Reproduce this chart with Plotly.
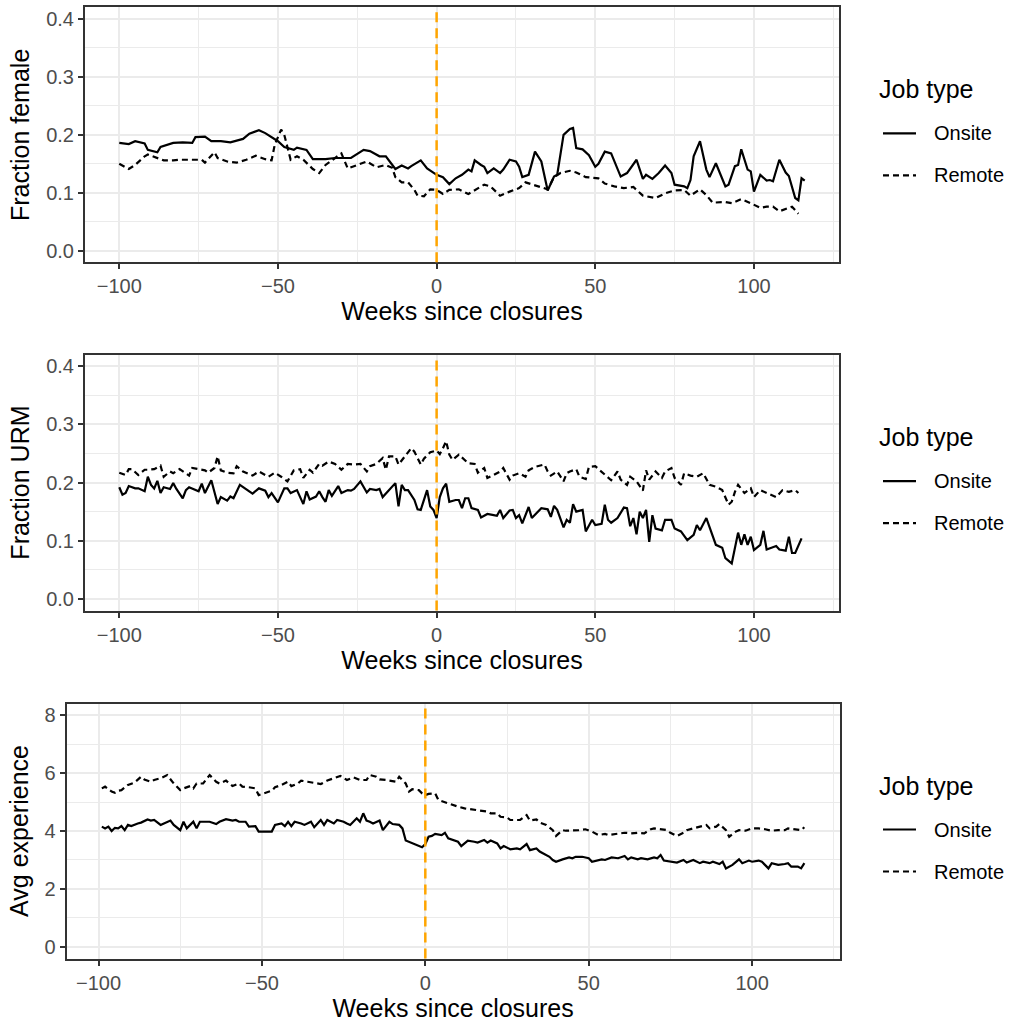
import plotly.graph_objects as go

# ---------------------------------------------------------------------------
# Weekly series, (week since closures, value)
# ---------------------------------------------------------------------------
female_onsite = [
    (-100, 0.186), (-97, 0.184), (-95, 0.189), (-92, 0.185), (-91, 0.174),
    (-88, 0.170), (-87, 0.179), (-83, 0.186), (-80, 0.187), (-77, 0.186),
    (-76, 0.196), (-73, 0.197), (-71, 0.189), (-68, 0.189), (-65, 0.187),
    (-61, 0.193), (-59, 0.202), (-56, 0.208), (-54, 0.203), (-50, 0.189),
    (-48, 0.179), (-45, 0.174), (-44, 0.178), (-41, 0.174), (-39, 0.158),
    (-35, 0.158), (-32, 0.160), (-29, 0.160), (-27, 0.160), (-23, 0.174),
    (-21, 0.172), (-18, 0.163), (-16, 0.163), (-13, 0.141), (-11, 0.147),
    (-9, 0.142), (-8, 0.146), (-5, 0.156), (-3, 0.142), (0, 0.131),
    (2, 0.127), (4, 0.115), (6, 0.125), (8, 0.131), (10, 0.140),
    (11, 0.137), (12, 0.156), (14, 0.148), (15, 0.145), (16, 0.134),
    (18, 0.142), (20, 0.134), (21, 0.140), (23, 0.157), (25, 0.154),
    (26, 0.145), (27, 0.127), (29, 0.131), (31, 0.171), (33, 0.154),
    (35, 0.104), (37, 0.128), (38, 0.131), (40, 0.200), (42, 0.210),
    (43, 0.212), (44, 0.177), (46, 0.175), (48, 0.165), (50, 0.145),
    (51, 0.150), (53, 0.171), (55, 0.168), (58, 0.128), (60, 0.134),
    (63, 0.157), (65, 0.124), (66, 0.131), (68, 0.124), (70, 0.134),
    (72, 0.147), (74, 0.134), (75, 0.114), (78, 0.111), (79, 0.108),
    (80, 0.122), (81, 0.163), (83, 0.189), (85, 0.140), (86, 0.127),
    (88, 0.151), (91, 0.111), (92, 0.114), (94, 0.146), (95, 0.148),
    (96, 0.175), (98, 0.140), (99, 0.137), (100, 0.102), (102, 0.131),
    (104, 0.121), (105, 0.122), (106, 0.120), (108, 0.157), (110, 0.135),
    (111, 0.129), (113, 0.091), (114, 0.087), (115, 0.125), (116, 0.121),
]

female_remote = [
    (-100, 0.150), (-97, 0.141), (-95, 0.148), (-92, 0.163), (-91, 0.166),
    (-89, 0.162), (-86, 0.156), (-83, 0.156), (-81, 0.157), (-77, 0.157),
    (-74, 0.157), (-73, 0.152), (-70, 0.170), (-69, 0.160), (-66, 0.154),
    (-63, 0.152), (-60, 0.157), (-57, 0.164), (-54, 0.158), (-52, 0.156),
    (-51, 0.183), (-49, 0.209), (-48, 0.200), (-46, 0.157), (-44, 0.163),
    (-42, 0.157), (-39, 0.141), (-37, 0.134), (-35, 0.148), (-30, 0.168),
    (-28, 0.142), (-25, 0.148), (-22, 0.154), (-19, 0.144), (-16, 0.148),
    (-14, 0.143), (-13, 0.127), (-11, 0.118), (-9, 0.118), (-7, 0.105),
    (-6, 0.095), (-4, 0.094), (-2, 0.106), (0, 0.105), (2, 0.098),
    (4, 0.105), (7, 0.106), (10, 0.098), (13, 0.108), (15, 0.114),
    (17, 0.111), (20, 0.095), (23, 0.102), (26, 0.108), (28, 0.118),
    (32, 0.111), (35, 0.106), (37, 0.127), (39, 0.134), (42, 0.138),
    (44, 0.135), (47, 0.127), (51, 0.125), (53, 0.116), (56, 0.111),
    (59, 0.108), (62, 0.110), (65, 0.095), (69, 0.091), (72, 0.099),
    (75, 0.104), (78, 0.105), (80, 0.095), (83, 0.106), (85, 0.096),
    (87, 0.083), (91, 0.084), (93, 0.082), (96, 0.089), (99, 0.082),
    (102, 0.074), (104, 0.076), (106, 0.076), (108, 0.068), (112, 0.076),
    (114, 0.064),
]

urm_onsite = [
    (-100, 0.192), (-99, 0.179), (-98, 0.182), (-97, 0.194), (-95, 0.190),
    (-94, 0.190), (-92, 0.185), (-91, 0.210), (-90, 0.196), (-89, 0.190),
    (-88, 0.203), (-87, 0.182), (-86, 0.192), (-84, 0.189), (-83, 0.199),
    (-82, 0.189), (-80, 0.173), (-79, 0.187), (-78, 0.192), (-76, 0.187),
    (-75, 0.185), (-74, 0.198), (-73, 0.182), (-71, 0.204), (-70, 0.182),
    (-69, 0.163), (-68, 0.175), (-66, 0.169), (-65, 0.176), (-64, 0.173),
    (-62, 0.196), (-61, 0.192), (-59, 0.185), (-58, 0.181), (-56, 0.190),
    (-54, 0.186), (-53, 0.175), (-52, 0.182), (-50, 0.166), (-48, 0.190),
    (-47, 0.190), (-46, 0.182), (-44, 0.187), (-43, 0.175), (-42, 0.163),
    (-41, 0.185), (-40, 0.171), (-38, 0.176), (-37, 0.185), (-36, 0.175),
    (-35, 0.167), (-34, 0.187), (-33, 0.177), (-31, 0.194), (-30, 0.182),
    (-28, 0.187), (-27, 0.186), (-26, 0.189), (-24, 0.202), (-22, 0.183),
    (-21, 0.189), (-19, 0.187), (-18, 0.189), (-17, 0.175), (-15, 0.187),
    (-13, 0.199), (-12, 0.159), (-11, 0.196), (-10, 0.187), (-9, 0.187),
    (-7, 0.170), (-6, 0.154), (-5, 0.153), (-3, 0.187), (-2, 0.159),
    (-1, 0.153), (0, 0.139), (1, 0.175), (2, 0.190), (3, 0.198),
    (4, 0.167), (6, 0.170), (7, 0.170), (8, 0.156), (9, 0.173),
    (10, 0.173), (11, 0.156), (13, 0.153), (14, 0.140), (16, 0.146),
    (18, 0.144), (19, 0.143), (20, 0.153), (21, 0.139), (23, 0.152),
    (24, 0.153), (25, 0.139), (26, 0.144), (27, 0.130), (29, 0.158),
    (30, 0.139), (32, 0.150), (33, 0.156), (35, 0.154), (36, 0.141),
    (37, 0.160), (38, 0.153), (40, 0.123), (41, 0.136), (42, 0.131),
    (43, 0.163), (44, 0.150), (46, 0.153), (47, 0.116), (49, 0.136),
    (50, 0.127), (52, 0.129), (53, 0.162), (54, 0.136), (55, 0.131),
    (57, 0.139), (59, 0.157), (60, 0.156), (61, 0.125), (62, 0.139),
    (63, 0.111), (64, 0.150), (65, 0.139), (66, 0.153), (67, 0.098),
    (68, 0.144), (69, 0.121), (71, 0.118), (72, 0.136), (74, 0.136),
    (75, 0.121), (77, 0.116), (79, 0.101), (81, 0.110), (82, 0.127),
    (83, 0.118), (85, 0.139), (86, 0.124), (88, 0.093), (90, 0.088),
    (91, 0.070), (93, 0.061), (94, 0.090), (95, 0.114), (96, 0.093),
    (97, 0.111), (98, 0.093), (99, 0.107), (100, 0.084), (102, 0.093),
    (103, 0.117), (104, 0.085), (107, 0.091), (108, 0.085), (110, 0.083),
    (111, 0.107), (112, 0.079), (113, 0.079), (115, 0.104),
]

urm_remote = [
    (-100, 0.217), (-98, 0.213), (-97, 0.223), (-96, 0.223), (-94, 0.213),
    (-92, 0.222), (-91, 0.222), (-89, 0.223), (-87, 0.229), (-86, 0.210),
    (-84, 0.219), (-83, 0.216), (-81, 0.223), (-78, 0.212), (-77, 0.225),
    (-75, 0.223), (-73, 0.221), (-72, 0.217), (-70, 0.225), (-69, 0.245),
    (-68, 0.221), (-66, 0.217), (-64, 0.216), (-63, 0.228), (-61, 0.219),
    (-58, 0.212), (-56, 0.219), (-53, 0.210), (-51, 0.217), (-49, 0.210),
    (-47, 0.202), (-45, 0.221), (-43, 0.223), (-42, 0.208), (-40, 0.222),
    (-39, 0.217), (-37, 0.232), (-36, 0.229), (-34, 0.236), (-32, 0.232),
    (-30, 0.222), (-28, 0.232), (-26, 0.231), (-24, 0.232), (-22, 0.219),
    (-21, 0.228), (-19, 0.232), (-17, 0.242), (-16, 0.222), (-15, 0.245),
    (-13, 0.245), (-12, 0.231), (-10, 0.245), (-8, 0.259), (-7, 0.253),
    (-5, 0.231), (-4, 0.241), (-2, 0.252), (0, 0.255), (1, 0.249),
    (2, 0.259), (3, 0.271), (4, 0.248), (5, 0.239), (7, 0.248),
    (9, 0.239), (10, 0.233), (12, 0.232), (13, 0.217), (15, 0.225),
    (16, 0.208), (18, 0.213), (20, 0.219), (21, 0.225), (23, 0.205),
    (24, 0.212), (26, 0.216), (28, 0.210), (29, 0.221), (31, 0.227),
    (34, 0.231), (35, 0.219), (36, 0.212), (38, 0.219), (40, 0.202),
    (41, 0.216), (42, 0.219), (44, 0.223), (45, 0.210), (47, 0.206),
    (48, 0.227), (50, 0.228), (52, 0.219), (54, 0.210), (55, 0.204),
    (57, 0.219), (58, 0.205), (60, 0.196), (61, 0.210), (63, 0.202),
    (65, 0.186), (66, 0.221), (67, 0.205), (69, 0.219), (71, 0.208),
    (72, 0.219), (74, 0.225), (75, 0.208), (77, 0.196), (78, 0.216),
    (80, 0.212), (82, 0.210), (84, 0.216), (86, 0.196), (88, 0.193),
    (90, 0.187), (92, 0.162), (93, 0.167), (94, 0.184), (95, 0.196),
    (97, 0.182), (99, 0.190), (100, 0.175), (102, 0.187), (104, 0.182),
    (107, 0.175), (109, 0.187), (111, 0.184), (113, 0.187), (114, 0.182),
]

exp_onsite = [
    (-99, 4.15), (-98, 4.09), (-97, 4.15), (-96, 4.00), (-95, 4.11),
    (-94, 4.09), (-93, 4.17), (-92, 4.03), (-91, 4.21), (-90, 4.17),
    (-88, 4.26), (-87, 4.29), (-85, 4.40), (-84, 4.36), (-83, 4.38),
    (-81, 4.21), (-80, 4.26), (-78, 4.36), (-77, 4.21), (-75, 4.03),
    (-74, 4.32), (-73, 4.09), (-71, 4.32), (-70, 4.09), (-69, 4.32),
    (-67, 4.32), (-66, 4.32), (-64, 4.24), (-63, 4.32), (-61, 4.41),
    (-59, 4.36), (-58, 4.38), (-57, 4.32), (-55, 4.32), (-54, 4.15),
    (-52, 4.17), (-51, 3.98), (-49, 3.98), (-47, 3.98), (-46, 4.21),
    (-44, 4.26), (-43, 4.17), (-42, 4.32), (-41, 4.17), (-40, 4.32),
    (-38, 4.26), (-37, 4.21), (-35, 4.32), (-34, 4.13), (-32, 4.38),
    (-31, 4.21), (-30, 4.38), (-28, 4.26), (-27, 4.38), (-25, 4.32),
    (-24, 4.26), (-23, 4.21), (-21, 4.44), (-20, 4.32), (-19, 4.61),
    (-18, 4.36), (-17, 4.32), (-16, 4.26), (-14, 4.36), (-13, 4.03),
    (-11, 4.32), (-10, 4.24), (-8, 4.21), (-7, 4.09), (-6, 3.67),
    (-4, 3.57), (-2, 3.49), (-1, 3.44), (0, 3.55), (1, 3.80),
    (2, 3.83), (3, 3.90), (5, 3.86), (6, 3.94), (7, 3.75),
    (10, 3.63), (11, 3.48), (13, 3.67), (15, 3.63), (16, 3.60),
    (18, 3.69), (19, 3.60), (20, 3.67), (22, 3.57), (23, 3.40),
    (24, 3.48), (26, 3.37), (28, 3.40), (29, 3.37), (31, 3.55),
    (32, 3.34), (34, 3.40), (35, 3.29), (38, 3.11), (39, 3.00),
    (40, 2.94), (42, 3.02), (44, 3.09), (45, 3.06), (46, 3.11),
    (48, 3.11), (50, 3.06), (51, 2.94), (54, 3.02), (55, 3.00),
    (57, 3.09), (59, 3.06), (61, 3.14), (62, 3.02), (63, 3.09),
    (65, 3.02), (66, 3.06), (68, 3.02), (70, 3.09), (71, 3.06),
    (72, 3.17), (73, 2.98), (75, 2.94), (77, 2.91), (79, 3.00),
    (80, 2.91), (82, 3.00), (84, 2.89), (85, 2.94), (87, 2.89),
    (88, 2.94), (90, 2.86), (91, 2.94), (92, 2.71), (94, 2.83),
    (96, 3.02), (97, 2.89), (99, 2.98), (100, 2.94), (102, 2.98),
    (103, 2.94), (105, 2.71), (106, 2.89), (108, 2.83), (110, 2.86),
    (111, 2.89), (112, 2.77), (114, 2.77), (115, 2.71), (116, 2.89),
]

exp_remote = [
    (-99, 5.47), (-98, 5.53), (-96, 5.36), (-95, 5.32), (-94, 5.39),
    (-93, 5.41), (-91, 5.59), (-89, 5.67), (-87, 5.87), (-86, 5.78),
    (-84, 5.70), (-83, 5.76), (-81, 5.82), (-79, 5.93), (-77, 5.64),
    (-75, 5.41), (-74, 5.47), (-72, 5.55), (-71, 5.47), (-70, 5.64),
    (-68, 5.64), (-66, 5.93), (-64, 5.70), (-63, 5.64), (-61, 5.74),
    (-59, 5.55), (-57, 5.64), (-56, 5.53), (-54, 5.51), (-52, 5.47),
    (-51, 5.24), (-49, 5.32), (-47, 5.39), (-46, 5.51), (-44, 5.59),
    (-42, 5.70), (-41, 5.55), (-39, 5.64), (-38, 5.74), (-36, 5.70),
    (-34, 5.67), (-32, 5.62), (-30, 5.74), (-28, 5.82), (-26, 5.90),
    (-24, 5.76), (-22, 5.85), (-20, 5.76), (-18, 5.76), (-17, 5.93),
    (-15, 5.87), (-14, 5.78), (-12, 5.76), (-9, 5.70), (-8, 5.87),
    (-6, 5.64), (-5, 5.36), (-4, 5.44), (-2, 5.41), (-1, 5.30),
    (0, 5.24), (1, 5.28), (3, 5.30), (4, 5.07), (7, 4.95),
    (8, 4.90), (10, 4.84), (12, 4.78), (14, 4.75), (16, 4.72),
    (17, 4.70), (19, 4.67), (20, 4.61), (22, 4.61), (23, 4.49),
    (25, 4.47), (26, 4.38), (28, 4.38), (29, 4.38), (31, 4.55),
    (32, 4.36), (34, 4.40), (35, 4.29), (37, 4.21), (39, 4.03),
    (40, 3.83), (42, 4.03), (43, 4.01), (45, 4.01), (47, 4.03),
    (49, 4.06), (51, 3.98), (53, 3.86), (55, 3.90), (56, 3.86),
    (59, 3.92), (61, 3.94), (63, 3.92), (65, 3.94), (67, 3.92),
    (69, 4.06), (70, 4.09), (72, 4.06), (74, 4.03), (75, 3.94),
    (77, 3.83), (79, 3.94), (80, 4.03), (82, 4.09), (84, 4.15),
    (86, 4.21), (87, 4.09), (89, 4.15), (90, 4.24), (92, 4.03),
    (93, 3.80), (95, 3.98), (96, 4.03), (98, 4.01), (100, 4.09),
    (102, 4.09), (104, 4.06), (106, 4.01), (108, 4.03), (110, 4.03),
    (111, 4.09), (113, 4.06), (115, 4.03), (116, 4.13),
]

x_ticks = [-100, -50, 0, 50, 100]
x_minor = [-75, -25, 25, 75, 125]
x_title = "Weeks since closures"
legend_title = "Job type"
legend_labels = ["Onsite", "Remote"]

# ---------------------------------------------------------------------------
# Page geometry (pixels) and styling
# ---------------------------------------------------------------------------
W, H = 1013, 1024
FONT = "Liberation Sans, Arial, Helvetica, sans-serif"
BORDER = "#333333"
GRID = "#EBEBEB"
TICK_TXT = "#4D4D4D"
TITLE_SIZE = 25
TICK_SIZE = 20
LINE_W = 2.2
REMOTE_DASH = "6px,4px"

panels = [
    dict(px=(85, 839), py=(7.4, 262.3), xrange=[-110.8, 126.8],
         yrange=[-0.02, 0.42], yticks=[0, 0.1, 0.2, 0.3, 0.4],
         yminor=[0.05, 0.15, 0.25, 0.35], yfmt=".1f",
         ytitle="Fraction female", onsite=female_onsite, remote=female_remote),
    dict(px=(85, 839), py=(354.5, 610.6), xrange=[-110.8, 126.8],
         yrange=[-0.02, 0.42], yticks=[0, 0.1, 0.2, 0.3, 0.4],
         yminor=[0.05, 0.15, 0.25, 0.35], yfmt=".1f",
         ytitle="Fraction URM", onsite=urm_onsite, remote=urm_remote),
    dict(px=(66.7, 839.5), py=(703.5, 958.5), xrange=[-109.75, 126.75],
         yrange=[-0.4, 8.4], yticks=[0, 2, 4, 6, 8],
         yminor=[1, 3, 5, 7], yfmt="d",
         ytitle="Avg experience", onsite=exp_onsite, remote=exp_remote),
]


def fx(px):
    return px / W


def fy(py):
    return 1 - py / H


fig = go.Figure()
layout = dict(
    width=W, height=H,
    margin=dict(l=0, r=0, t=0, b=0),
    paper_bgcolor="white", plot_bgcolor="white",
    font=dict(family=FONT, color="black"),
    showlegend=False,
    shapes=[], annotations=[],
)

for i, p in enumerate(panels, start=1):
    xa = "x" if i == 1 else f"x{i}"
    ya = "y" if i == 1 else f"y{i}"
    for series, dash in ((p["onsite"], "solid"), (p["remote"], REMOTE_DASH)):
        fig.add_trace(go.Scatter(
            x=[w for w, _ in series], y=[v for _, v in series],
            mode="lines", xaxis=xa, yaxis=ya,
            line=dict(color="black", width=LINE_W, dash=dash),
            hoverinfo="skip",
        ))

    common = dict(
        showline=True, linecolor=BORDER, linewidth=2, mirror=True,
        ticks="outside", ticklen=5, tickwidth=2, tickcolor=BORDER,
        tickfont=dict(size=TICK_SIZE, color=TICK_TXT, family=FONT),
        showgrid=True, gridcolor=GRID, gridwidth=2,
        zeroline=False, automargin=False, fixedrange=True,
    )
    layout["xaxis" if i == 1 else f"xaxis{i}"] = dict(
        common,
        domain=[fx(p["px"][0]), fx(p["px"][1])],
        anchor=ya, range=p["xrange"],
        tickmode="array", tickvals=x_ticks,
        minor=dict(tickmode="array", tickvals=x_minor, showgrid=True,
                   gridcolor=GRID, gridwidth=1, ticks=""),
        title=dict(text=x_title, font=dict(size=TITLE_SIZE, family=FONT),
                   standoff=5),
    )
    layout["yaxis" if i == 1 else f"yaxis{i}"] = dict(
        common,
        domain=[fy(p["py"][1]), fy(p["py"][0])],
        anchor=xa, range=p["yrange"],
        tickmode="array", tickvals=p["yticks"], tickformat=p["yfmt"],
        minor=dict(tickmode="array", tickvals=p["yminor"], showgrid=True,
                   gridcolor=GRID, gridwidth=1, ticks=""),
        title=dict(text=p["ytitle"], font=dict(size=TITLE_SIZE, family=FONT),
                   standoff=9),
    )

    # closure marker
    layout["shapes"].append(dict(
        type="line", xref=xa, yref=f"{ya} domain", x0=0, x1=0, y0=0, y1=1,
        line=dict(color="orange", width=2.5, dash="10px,6px"), layer="above",
    ))

    # legend block for this panel
    cy = (p["py"][0] + p["py"][1]) / 2
    layout["annotations"].append(dict(
        text=legend_title, xref="paper", yref="paper",
        x=fx(877), y=fy(cy - 45.5), xanchor="left", yanchor="middle",
        showarrow=False, font=dict(size=TITLE_SIZE, family=FONT, color="black"),
    ))
    for k, (label, dash) in enumerate(zip(legend_labels, ["solid", REMOTE_DASH])):
        ly = cy - 1.5 + k * 42
        layout["shapes"].append(dict(
            type="line", xref="paper", yref="paper",
            x0=fx(883), x1=fx(916), y0=fy(ly), y1=fy(ly),
            line=dict(color="black", width=LINE_W, dash=dash),
        ))
        layout["annotations"].append(dict(
            text=label, xref="paper", yref="paper",
            x=fx(932), y=fy(ly), xanchor="left", yanchor="middle",
            showarrow=False, font=dict(size=TICK_SIZE, family=FONT, color="black"),
        ))

fig.update_layout(**layout)
fig.write_html("out.html")
